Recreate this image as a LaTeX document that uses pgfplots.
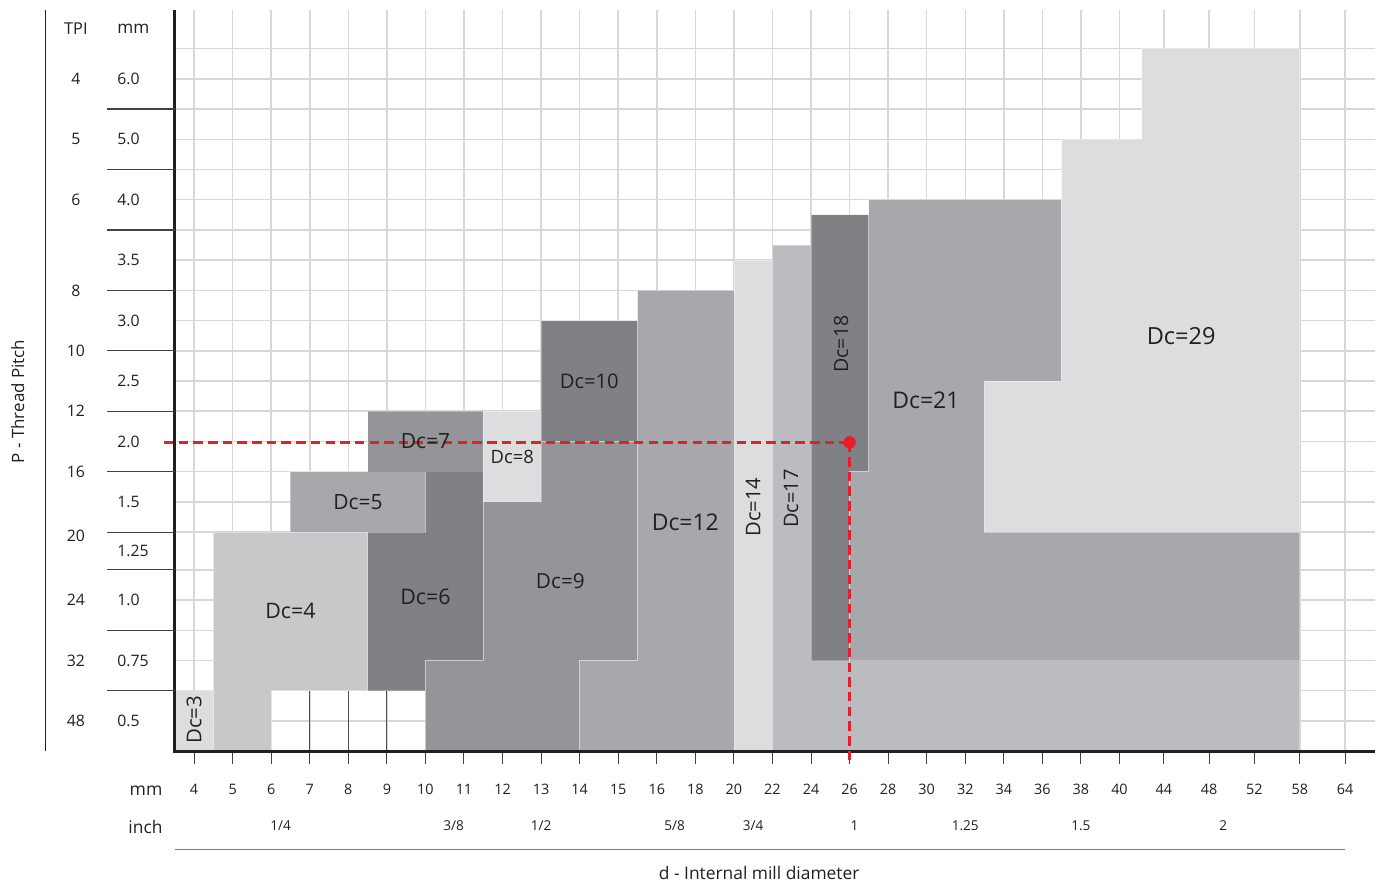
\documentclass[border=0pt]{standalone}
\usepackage{pgfplots}
\pgfplotsset{compat=1.18}
\usepackage{fontspec}
\setmainfont{Open Sans}
\definecolor{cA}{HTML}{DCDDDF}
\definecolor{cB}{HTML}{C7C8CA}
\definecolor{cC}{HTML}{BBBCBF}
\definecolor{cD}{HTML}{A7A8AB}
\definecolor{cE}{HTML}{949598}
\definecolor{cF}{HTML}{808184}
\definecolor{gridc}{HTML}{D8D8D8}
\definecolor{redc}{HTML}{E81D2A}
\definecolor{txt}{HTML}{231F20}
\newcommand{\fs}[1]{\fontsize{#1}{#1}\selectfont}
\begin{document}
\begin{tikzpicture}
\begin{axis}[
  at={(0pt,0pt)}, anchor=south west,
  scale only axis, width=600.5pt, height=371pt,
  xmin=-0.5, xmax=30.614, ymin=0, ymax=24.53,
  clip=false,
  axis x line=bottom, axis y line=left,
  axis line style={-, line width=1.5pt, color=txt},
  xtick={0,1,2,3,4,5,6,7,8,9,10,11,12,13,14,15,16,17,18,19,20,21,22,23,24,25.148,26.324,27.5,28.676,29.852},
  xticklabels={4,5,6,7,8,9,10,11,12,13,14,15,16,18,20,22,24,26,28,30,32,34,36,38,40,44,48,52,58,64},
  xtick align=outside,
  major tick length=6.5pt,
  xtick style={color=txt!85, line width=0.5pt},
  ytick={1,2,3,4,5,6,7.25,8.25,9.25,10.25,11.25,12.25,13.25,14.25,15.25,16.25,17.25,18.25,19.25,20.25,21.25,22.25,23.25},
  yticklabels={},
  ytick style={draw=none},
  xmajorgrids, ymajorgrids,
  major grid style={gridc, line width=0.75pt},
  xticklabel style={font=\fs{7.2}, text=txt, yshift=-6.5pt},
  blk/.style={draw=white, draw opacity=0.35, line width=0.4pt},
]
% ---- blocks (x: column index, y: row units) ----
% Dc=3
\addplot[blk, fill=cA] coordinates {(-0.5,0)(-0.5,2)(0.5,2)(0.5,0)};
% Dc=4
\addplot[blk, fill=cB] coordinates {(0.5,0)(0.5,7.25)(4.5,7.25)(4.5,2)(2,2)(2,0)};
% Dc=5
\addplot[blk, fill=cD] coordinates {(2.5,7.25)(2.5,9.25)(6,9.25)(6,7.25)};
% Dc=6
\addplot[blk, fill=cF] coordinates {(4.5,2)(4.5,7.25)(6,7.25)(6,9.25)(7.5,9.25)(7.5,3)(6,3)(6,2)};
% Dc=7
\addplot[blk, fill=cE] coordinates {(4.5,9.25)(4.5,11.25)(7.5,11.25)(7.5,9.25)};
% Dc=8
\addplot[blk, fill=cA] coordinates {(7.5,8.25)(7.5,11.25)(9,11.25)(9,8.25)};
% Dc=9
\addplot[blk, fill=cE] coordinates {(6,0)(6,3)(7.5,3)(7.5,8.25)(9,8.25)(9,10.25)(11.5,10.25)(11.5,3)(10,3)(10,0)};
% Dc=10
\addplot[blk, fill=cF] coordinates {(9,10.25)(9,14.25)(11.5,14.25)(11.5,10.25)};
% Dc=12
\addplot[blk, fill=cD] coordinates {(10,0)(10,3)(11.5,3)(11.5,15.25)(14,15.25)(14,0)};
% Dc=14
\addplot[blk, fill=cA] coordinates {(14,0)(14,16.25)(15,16.25)(15,0)};
% Dc=17
\addplot[blk, fill=cC] coordinates {(15,0)(15,16.75)(16,16.75)(16,3)(28.676,3)(28.676,0)};
% Dc=18
\addplot[blk, fill=cF] coordinates {(16,3)(16,17.75)(17.5,17.75)(17.5,9.25)(17,9.25)(17,3)};
% Dc=21
\addplot[blk, fill=cD] coordinates {(17,3)(17,9.25)(17.5,9.25)(17.5,18.25)(22.5,18.25)(22.5,12.25)(20.5,12.25)(20.5,7.25)(28.676,7.25)(28.676,3)};
% Dc=29
\addplot[blk, fill=cA] coordinates {(20.5,7.25)(20.5,12.25)(22.5,12.25)(22.5,20.25)(24.578,20.25)(24.578,23.25)(28.676,23.25)(28.676,7.25)};
% dark column lines in the empty cells
\addplot[ycomb, mark=none, color=txt!80, line width=0.6pt] coordinates {(3,2)(4,2)(5,2)};
% axis lines on top
\draw[line width=1.5pt, txt] (axis cs:-0.5,24.53) -- (axis cs:-0.5,0) -- (axis cs:30.614,0);
% ---- red reading example ----
\addplot[redc, line width=1.4pt, dash pattern=on 4.75pt off 2.6pt] coordinates {(-0.78,10.22)(17,10.22)};
\addplot[redc, line width=1.4pt, dash pattern=on 4.75pt off 2.6pt] coordinates {(17,10.22)(17,-0.45)};
\addplot[only marks, mark=*, mark size=2.9pt, color=redc] coordinates {(17,10.22)};
% ---- block labels ----
\begin{scope}[every node/.style={text=txt, inner sep=0pt}]
\node[rotate=90, font=\fs{10.2}] at (axis cs:0,1.04) {Dc=3};
\node[font=\fs{10.7}] at (axis cs:2.5,4.63) {Dc=4};
\node[font=\fs{10.5}] at (axis cs:4.25,8.23) {Dc=5};
\node[font=\fs{10.7}] at (axis cs:6,5.12) {Dc=6};
\node[font=\fs{10.5}] at (axis cs:6,10.25) {Dc=7};
\node[font=\fs{9.2}] at (axis cs:8.25,9.75) {Dc=8};
\node[font=\fs{10.4}] at (axis cs:9.5,5.62) {Dc=9};
\node[font=\fs{10.1}] at (axis cs:10.25,12.23) {Dc=10};
\node[font=\fs{11.5}] at (axis cs:12.74,7.57) {Dc=12};
\node[rotate=90, font=\fs{10.1}] at (axis cs:14.5,8.08) {Dc=14};
\node[rotate=90, font=\fs{10}] at (axis cs:15.48,8.36) {Dc=17};
\node[rotate=90, font=\fs{9.8}] at (axis cs:16.78,13.47) {Dc=18};
\node[font=\fs{11.5}] at (axis cs:18.98,11.6) {Dc=21};
\node[font=\fs{11.8}] at (axis cs:25.6,13.75) {Dc=29};
% ---- left pitch columns ----
\node[font=\fs{8.2}] at (axis cs:-3.065,23.9) {TPI};
\node[font=\fs{8.6}, anchor=west] at (axis cs:-2.0,23.9) {mm};
\node[font=\fs{7.9}] at (axis cs:-3.065,22.25) {4};
\node[font=\fs{7.9}] at (axis cs:-3.065,20.25) {5};
\node[font=\fs{7.9}] at (axis cs:-3.065,18.25) {6};
\node[font=\fs{7.9}] at (axis cs:-3.065,15.25) {8};
\node[font=\fs{7.9}] at (axis cs:-3.065,13.25) {10};
\node[font=\fs{7.9}] at (axis cs:-3.065,11.25) {12};
\node[font=\fs{7.9}] at (axis cs:-3.065,9.25) {16};
\node[font=\fs{7.9}] at (axis cs:-3.065,7.14) {20};
\node[font=\fs{7.9}] at (axis cs:-3.065,5) {24};
\node[font=\fs{7.9}] at (axis cs:-3.065,3) {32};
\node[font=\fs{7.9}] at (axis cs:-3.065,1) {48};
\node[font=\fs{7.9}, anchor=west] at (axis cs:-2.0,22.25) {6.0};
\node[font=\fs{7.9}, anchor=west] at (axis cs:-2.0,20.25) {5.0};
\node[font=\fs{7.9}, anchor=west] at (axis cs:-2.0,18.25) {4.0};
\node[font=\fs{7.9}, anchor=west] at (axis cs:-2.0,16.25) {3.5};
\node[font=\fs{7.9}, anchor=west] at (axis cs:-2.0,14.25) {3.0};
\node[font=\fs{7.9}, anchor=west] at (axis cs:-2.0,12.25) {2.5};
\node[font=\fs{7.9}, anchor=west] at (axis cs:-2.0,10.25) {2.0};
\node[font=\fs{7.9}, anchor=west] at (axis cs:-2.0,8.25) {1.5};
\node[font=\fs{7.9}, anchor=west] at (axis cs:-2.0,6.62) {1.25};
\node[font=\fs{7.9}, anchor=west] at (axis cs:-2.0,5) {1.0};
\node[font=\fs{7.9}, anchor=west] at (axis cs:-2.0,3) {0.75};
\node[font=\fs{7.9}, anchor=west] at (axis cs:-2.0,1) {0.5};
\node[rotate=90, font=\fs{8.5}] at (axis cs:-4.57,11.57) {P - Thread Pitch};
% ---- bottom rows ----
\node[font=\fs{8.8}, anchor=east] at (axis cs:-0.81,-1.3) {mm};
\node[font=\fs{8.7}, anchor=east] at (axis cs:-0.81,-2.5) {inch};
\node[font=\fs{6.8}] at (axis cs:2.246,-2.47) {1/4};
\node[font=\fs{6.8}] at (axis cs:6.73,-2.47) {3/8};
\node[font=\fs{6.8}] at (axis cs:9.0,-2.47) {1/2};
\node[font=\fs{6.8}] at (axis cs:12.46,-2.47) {5/8};
\node[font=\fs{6.8}] at (axis cs:14.5,-2.47) {3/4};
\node[font=\fs{6.8}] at (axis cs:17.13,-2.47) {1};
\node[font=\fs{6.8}] at (axis cs:20.0,-2.47) {1.25};
\node[font=\fs{6.8}] at (axis cs:23.0,-2.47) {1.5};
\node[font=\fs{6.8}] at (axis cs:26.69,-2.47) {2};
\node[font=\fs{8.7}] at (axis cs:14.655,-4.03) {d - Internal mill diameter};
\end{scope}
\draw[txt!60, line width=0.5pt] (axis cs:-0.5,-3.27) -- (axis cs:29.86,-3.27);
\draw[txt, line width=0.5pt] (axis cs:-3.842,0) -- (axis cs:-3.842,24.53);
\pgfplotsinvokeforeach{21.25,19.25,17.25,15.25,13.25,11.25,9.25,7.25,6,4,2}{
  \draw[txt!85, line width=0.6pt] (axis cs:-2.26,#1) -- (axis cs:-0.5,#1);
}
\end{axis}
\useasboundingbox (-87.5pt,-65.5pt) rectangle (600.5pt,376pt);
\end{tikzpicture}
\end{document}
